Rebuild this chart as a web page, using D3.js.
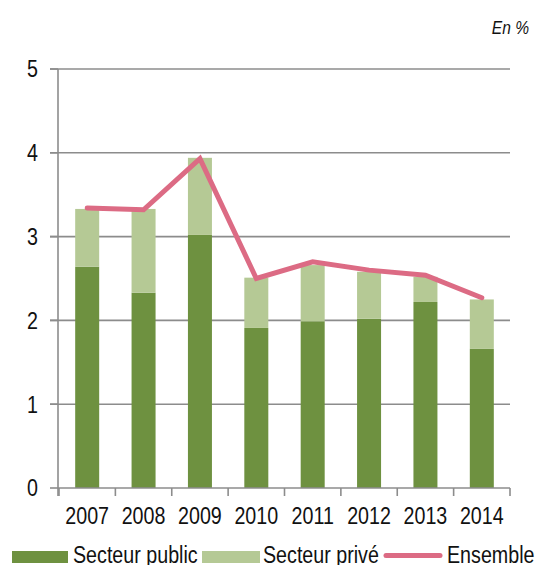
<!DOCTYPE html>
<html>
<head>
<meta charset="utf-8">
<script src="https://cdn.jsdelivr.net/npm/d3@7"></script>
<style>
  body { margin: 0; background: #fff; }
  svg { display: block; font-family: "Liberation Sans", Arial, sans-serif; }
</style>
</head>
<body>
<svg id="chart" width="537" height="565"></svg>
<script>
// données
const annees = ["2007", "2008", "2009", "2010", "2011", "2012", "2013", "2014"];
const secteurPublic = [2.64, 2.33, 3.02, 1.91, 1.99, 2.02, 2.22, 1.66];
const secteurPrive = [0.69, 1.00, 0.92, 0.60, 0.67, 0.56, 0.30, 0.59];
const ensemble = [3.34, 3.32, 3.93, 2.50, 2.70, 2.60, 2.54, 2.27];
const yTicks = [0, 1, 2, 3, 4, 5];

const colPublic = "#6e9140";
const colPrive = "#b5c995";
const colLigne = "#dc6b84";
const colAxe = "#8c8c8c";
const etroit = 0.82; // police condensée simulée

const svg = d3.select("#chart");

const x = d3.scaleBand().domain(annees).range([59, 510]).paddingInner(0).paddingOuter(0);
const y = d3.scaleLinear().domain([0, 5]).range([488, 69]);
const barW = 24;

function pos(px, py) {
  return `translate(${px},${py}) scale(${etroit},1)`;
}

// grille
svg.append("g")
  .selectAll("line")
  .data(yTicks.filter(d => d > 0))
  .join("line")
  .attr("x1", 50).attr("x2", 510)
  .attr("y1", d => y(d)).attr("y2", d => y(d))
  .attr("stroke", colAxe).attr("stroke-width", 1.6);

// barres empilées
const stack = annees.map((a, i) => ({ annee: a, pub: secteurPublic[i], priv: secteurPrive[i] }));
const bars = svg.append("g");
bars.selectAll(".pub")
  .data(stack)
  .join("rect")
  .attr("x", d => x(d.annee) + x.bandwidth() / 2 - barW / 2)
  .attr("width", barW)
  .attr("y", d => y(d.pub))
  .attr("height", d => y(0) - y(d.pub))
  .attr("fill", colPublic);
bars.selectAll(".priv")
  .data(stack)
  .join("rect")
  .attr("x", d => x(d.annee) + x.bandwidth() / 2 - barW / 2)
  .attr("width", barW)
  .attr("y", d => y(d.pub + d.priv))
  .attr("height", d => y(d.pub) - y(d.pub + d.priv))
  .attr("fill", colPrive);

// axe y
const yAxis = svg.append("g");
yAxis.append("line")
  .attr("x1", 58).attr("x2", 58).attr("y1", y(5)).attr("y2", y(0) + 8)
  .attr("stroke", colAxe).attr("stroke-width", 1.6);
yAxis.selectAll(".tk")
  .data(yTicks)
  .join("line")
  .attr("x1", 50).attr("x2", 58)
  .attr("y1", d => y(d)).attr("y2", d => y(d))
  .attr("stroke", colAxe).attr("stroke-width", 1.6);
yAxis.selectAll("text")
  .data(yTicks)
  .join("text")
  .attr("transform", d => pos(38, y(d)))
  .attr("dy", "0.35em")
  .attr("text-anchor", "end")
  .attr("font-size", 24)
  .attr("fill", "#111")
  .text(d => d);

// axe x
const xAxis = svg.append("g");
xAxis.append("line")
  .attr("x1", 58).attr("x2", 510).attr("y1", y(0)).attr("y2", y(0))
  .attr("stroke", colAxe).attr("stroke-width", 1.6);
xAxis.selectAll(".tk")
  .data(annees.concat(["fin"]))
  .join("line")
  .attr("x1", (d, i) => 59 + i * x.step())
  .attr("x2", (d, i) => 59 + i * x.step())
  .attr("y1", y(0)).attr("y2", y(0) + 8)
  .attr("stroke", colAxe).attr("stroke-width", 1.6);
xAxis.selectAll("text")
  .data(annees)
  .join("text")
  .attr("transform", d => pos(x(d) + x.bandwidth() / 2, 524))
  .attr("text-anchor", "middle")
  .attr("font-size", 24)
  .attr("fill", "#111")
  .text(d => d);

// ligne ensemble
const line = d3.line()
  .x((d, i) => x(annees[i]) + x.bandwidth() / 2)
  .y(d => y(d));
svg.append("path")
  .datum(ensemble)
  .attr("d", line)
  .attr("fill", "none")
  .attr("stroke", colLigne)
  .attr("stroke-width", 5)
  .attr("stroke-linejoin", "miter")
  .attr("stroke-linecap", "round");

// unité
svg.append("text")
  .attr("transform", pos(529, 34))
  .attr("text-anchor", "end")
  .attr("font-size", 19)
  .attr("font-style", "italic")
  .attr("fill", "#111")
  .text("En %");

// légende
const leg = svg.append("g").attr("font-size", 24).attr("fill", "#111");
leg.append("rect").attr("x", 12).attr("y", 551).attr("width", 56).attr("height", 12).attr("fill", colPublic);
leg.append("text").attr("transform", pos(73, 563)).text("Secteur public");
leg.append("rect").attr("x", 202).attr("y", 551).attr("width", 58).attr("height", 12).attr("fill", colPrive);
leg.append("text").attr("transform", pos(263, 563)).text("Secteur privé");
leg.append("line").attr("x1", 386).attr("x2", 440).attr("y1", 555.5).attr("y2", 555.5)
  .attr("stroke", colLigne).attr("stroke-width", 5).attr("stroke-linecap", "round");
leg.append("text").attr("transform", pos(447, 563)).text("Ensemble");
</script>
</body>
</html>
